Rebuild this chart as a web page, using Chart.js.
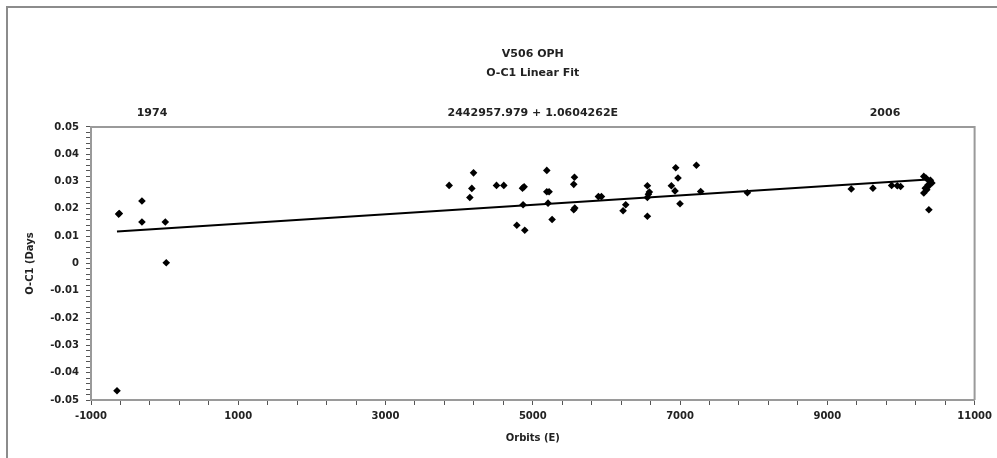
<!DOCTYPE html>
<html>
<head>
<meta charset="utf-8">
<script src="https://cdn.jsdelivr.net/npm/chart.js@4/dist/chart.umd.min.js"></script>
<style>
  html, body { margin: 0; padding: 0; background: #ffffff; }
  #wrap { width: 997px; height: 458px; position: relative; }
</style>
</head>
<body>
<div id="wrap"><canvas id="c"></canvas></div>
<script>
// ---- data ----
const orbits = [
  -625, -615, -308, -308, 9, 22, -647,
  3864, 4195, 4172, 4145, 4507, 4606, 4860, 4882, 4868, 4783, 4891,
  5190, 5190, 5221, 5207, 5262, 5566, 5556, 5570, 5556,
  5891, 5932, 6262, 6226, 6556, 6583, 6570, 6556, 6556,
  6941, 6972, 6882, 6931, 6999, 7222, 7280, 7914,
  9325, 9619, 9873, 9950, 9995,
  10310, 10340, 10390, 10370, 10330, 10310, 10370, 10400, 10420, 10350, 10379
];
const oc1Days = [
  0.0181, 0.0183, 0.0229, 0.0152, 0.0152, 0.0003, -0.0466,
  0.0286, 0.0332, 0.0275, 0.0242, 0.0286, 0.0286, 0.0276, 0.0281, 0.0215, 0.0140, 0.0122,
  0.0341, 0.0263, 0.0263, 0.0221, 0.0161, 0.0316, 0.0290, 0.0203, 0.0197,
  0.0245, 0.0245, 0.0215, 0.0193, 0.0285, 0.0262, 0.0254, 0.0242, 0.0173,
  0.0351, 0.0313, 0.0285, 0.0266, 0.0219, 0.0360, 0.0264, 0.0259,
  0.0273, 0.0276, 0.0286, 0.0285, 0.0282,
  0.0319, 0.0313, 0.0300, 0.0288, 0.0276, 0.0258, 0.0282, 0.0305, 0.0295, 0.0270, 0.0197
];
const fitIntercept = 0.01283;   // linear trend
const fitSlope = 1.733e-6;
const xTickLabels = [-1000, 1000, 3000, 5000, 7000, 9000, 11000];
const yTickLabels = ['0.05', '0.04', '0.03', '0.02', '0.01', '0', '-0.01', '-0.02', '-0.03', '-0.04', '-0.05'];
const titleLines = ['V506 OPH', 'O-C1 Linear Fit'];
const ephemeris = '2442957.979 + 1.0604262E';
const yearLabels = ['1974', '2006'];

// ---- build datasets ----
const points = orbits.map((x, i) => ({ x: x, y: oc1Days[i] }));
const xMin = Math.min(...orbits), xMax = Math.max(...orbits);
const fitLine = [xMin, xMax].map(x => ({ x: x, y: fitIntercept + fitSlope * x }));

const TXT = '#222222';
const AX = '#9a9a9a';
const FONT = 'DejaVu Sans';

const framePlugin = {
  id: 'frame',
  beforeDraw(chart) {
    const ctx = chart.ctx;
    ctx.save();
    ctx.fillStyle = '#ffffff';
    ctx.fillRect(0, 0, chart.width, chart.height);
    ctx.strokeStyle = '#8c8c8c';
    ctx.lineWidth = 2;
    ctx.beginPath();
    ctx.moveTo(7, chart.height);
    ctx.lineTo(7, 7);
    ctx.lineTo(chart.width, 7);
    ctx.stroke();
    ctx.restore();
  },
  afterDraw(chart) {
    const ctx = chart.ctx;
    const a = chart.chartArea;
    ctx.save();
    ctx.strokeStyle = AX;
    ctx.lineWidth = 2;
    ctx.beginPath();
    ctx.moveTo(a.left, a.top);
    ctx.lineTo(a.right, a.top);
    ctx.lineTo(a.right, a.bottom);
    ctx.stroke();
    // year labels beside the ephemeris subtitle
    ctx.fillStyle = TXT;
    ctx.font = 'bold 11px "' + FONT + '"';
    ctx.textAlign = 'center';
    ctx.textBaseline = 'middle';
    ctx.fillText(yearLabels[0], 152, 113);
    ctx.fillText(yearLabels[1], 885, 113);
    ctx.restore();
  }
};

new Chart(document.getElementById('c'), {
  type: 'scatter',
  data: {
    datasets: [
      {
        type: 'line',
        label: 'Linear fit',
        data: fitLine,
        borderColor: '#000000',
        borderWidth: 2,
        pointRadius: 0,
        fill: false,
        order: 1
      },
      {
        label: 'O-C1',
        data: points,
        pointStyle: 'rectRot',
        pointRadius: 3.8,
        backgroundColor: '#000000',
        borderColor: '#000000',
        borderWidth: 0,
        order: 0
      }
    ]
  },
  options: {
    responsive: true,
    maintainAspectRatio: false,
    animation: false,
    devicePixelRatio: 1,
    layout: { padding: { top: 8, left: 8, right: 22, bottom: 0 } },
    plugins: {
      legend: { display: false },
      tooltip: { enabled: false },
      title: {
        display: true,
        fullSize: false,
        text: titleLines,
        color: TXT,
        font: { family: FONT, size: 11, weight: 'bold', lineHeight: 1.727 },
        padding: { top: 36.5, bottom: 23 }
      },
      subtitle: {
        display: true,
        fullSize: false,
        text: ephemeris,
        color: TXT,
        font: { family: FONT, size: 11, weight: 'bold', lineHeight: 1.364 },
        padding: { top: 0, bottom: 6.5 }
      }
    },
    scales: {
      x: {
        type: 'linear',
        min: -1000,
        max: 11000,
        afterFit(s) { s.height = 58; },
        border: { color: AX, width: 2 },
        grid: { drawOnChartArea: false, drawTicks: true, tickLength: 5, tickColor: '#555555' },
        ticks: {
          stepSize: 400,
          autoSkip: false,
          maxRotation: 0,
          padding: 5,
          color: TXT,
          font: { family: FONT, size: 10, weight: 'bold' },
          callback: v => xTickLabels.includes(Math.round(v)) ? String(Math.round(v)) : ''
        },
        title: {
          display: true,
          text: 'Orbits (E)',
          color: TXT,
          font: { family: FONT, size: 10, weight: 'bold' },
          padding: { top: 0, bottom: 14 }
        }
      },
      y: {
        type: 'linear',
        min: -0.05,
        max: 0.05,
        afterFit(s) { s.width = 83; },
        border: { color: AX, width: 2 },
        grid: { drawOnChartArea: false, drawTicks: true, tickLength: 5, tickColor: '#555555' },
        ticks: {
          stepSize: 0.002,
          autoSkip: false,
          padding: 7,
          color: TXT,
          font: { family: FONT, size: 10, weight: 'bold' },
          callback: v => {
            const r = Math.round(v * 1000);
            if (r % 10 !== 0) return '';
            return yTickLabels[(50 - r) / 10];
          }
        },
        title: {
          display: true,
          text: 'O-C1 (Days',
          color: TXT,
          font: { family: FONT, size: 10, weight: 'bold' },
          padding: { top: 16, bottom: 0 }
        }
      }
    }
  },
  plugins: [framePlugin]
});
</script>
</body>
</html>
